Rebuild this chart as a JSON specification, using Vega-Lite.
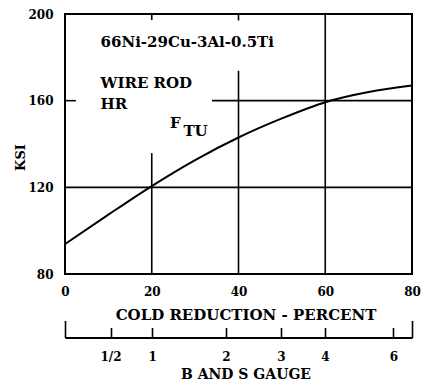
{
  "$schema": "https://vega.github.io/schema/vega-lite/v6.json",
  "width": 347,
  "height": 260,
  "autosize": {"type": "none"},
  "padding": {"left": 65, "top": 14, "right": 9, "bottom": 108},
  "background": "white",
  "config": {
    "view": {"stroke": "#000", "strokeWidth": 2},
    "font": "DejaVu Serif",
    "axis": {
      "grid": false,
      "labelFont": "DejaVu Serif",
      "titleFont": "DejaVu Serif",
      "labelColor": "#000",
      "titleColor": "#000",
      "labelFontWeight": "bold",
      "titleFontWeight": "bold"
    }
  },
  "resolve": {"axis": {"x": "independent"}},
  "encoding": {
    "y": {
      "field": "y",
      "type": "quantitative",
      "scale": {"domain": [80, 200], "nice": false, "zero": false},
      "axis": {
        "values": [80, 120, 160, 200],
        "ticks": false,
        "domain": false,
        "labelPadding": 12,
        "labelFontSize": 12,
        "labelOverlap": false,
        "title": "KSI",
        "titleFontSize": 13,
        "titleAngle": -90,
        "titleX": -41,
        "titleY": 143,
        "titleAlign": "center",
        "titleBaseline": "alphabetic"
      }
    }
  },
  "layer": [
    {
      "data": {
        "values": [
          {"x": 0, "x2": 80, "y": 120, "y2": 120},
          {"x": 33.9, "x2": 80, "y": 160, "y2": 160},
          {"x": 20, "x2": 20, "y": 80, "y2": 135.8},
          {"x": 40, "x2": 40, "y": 80, "y2": 173.8},
          {"x": 60, "x2": 60, "y": 80, "y2": 200},
          {"x": 0, "x2": 2.5, "y": 160, "y2": 160},
          {"x": 20, "x2": 20, "y": 197.2, "y2": 200},
          {"x": 40, "x2": 40, "y": 197, "y2": 200}
        ]
      },
      "mark": {"type": "rule", "color": "#000", "strokeWidth": 1.6},
      "encoding": {
        "x": {
          "field": "x",
          "type": "quantitative",
          "scale": {"domain": [0, 80], "nice": false, "zero": false},
          "axis": {
            "orient": "bottom",
            "offset": 63.5,
            "values": [0, 10.5, 20.1, 37.1, 49.8, 59.9, 75.7, 80],
            "labelExpr": "datum.value < 5 ? '' : datum.value < 15 ? '1/2' : datum.value < 30 ? '1' : datum.value < 45 ? '2' : datum.value < 55 ? '3' : datum.value < 70 ? '4' : datum.value < 78 ? '6' : ''",
            "domain": true,
            "domainColor": "#000",
            "domainWidth": 2,
            "ticks": true,
            "tickColor": "#000",
            "tickWidth": 1.6,
            "tickSize": {"condition": {"test": "datum.value <= 0 || datum.value >= 80", "value": -17}, "value": -10},
            "labelPadding": 24,
            "labelFontSize": 12,
            "labelFlush": false,
            "labelOverlap": false,
            "title": "B AND S GAUGE",
            "titleFontSize": 14,
            "titleX": 180.5,
            "titleY": 29.5,
            "titleBaseline": "top"
          }
        },
        "x2": {"field": "x2"},
        "y2": {"field": "y2"}
      }
    },
    {
      "data": {
        "values": [
          {"x": 0, "y": 93.8},
          {"x": 10, "y": 107.4},
          {"x": 20, "y": 120.6},
          {"x": 30, "y": 132.6},
          {"x": 40, "y": 143},
          {"x": 50, "y": 151.8},
          {"x": 60, "y": 159.3},
          {"x": 70, "y": 164},
          {"x": 80, "y": 167}
        ]
      },
      "mark": {"type": "line", "color": "#000", "strokeWidth": 2, "interpolate": "monotone"},
      "encoding": {
        "x": {
          "field": "x",
          "type": "quantitative",
          "scale": {"domain": [0, 80], "nice": false, "zero": false},
          "axis": {
            "orient": "bottom",
            "values": [0, 20, 40, 60, 80],
            "ticks": false,
            "domain": false,
            "labelPadding": 12,
            "labelFontSize": 12,
            "labelFlush": false,
            "labelOverlap": false,
            "title": "COLD REDUCTION - PERCENT",
            "titleFontSize": 15,
            "titleX": 180.5,
            "titleY": 33,
            "titleBaseline": "top"
          }
        }
      }
    },
    {
      "data": {
        "values": [
          {"x": 8.2, "y": 184.9, "label": "66Ni-29Cu-3Al-0.5Ti"},
          {"x": 8.2, "y": 165.7, "label": "WIRE ROD"},
          {"x": 8.2, "y": 156.0, "label": "HR"},
          {"x": 24.2, "y": 147.2, "label": "F"},
          {"x": 27.3, "y": 143.7, "label": "TU"}
        ]
      },
      "mark": {"type": "text", "align": "left", "baseline": "alphabetic", "font": "DejaVu Serif", "fontSize": 15, "fontWeight": "bold", "color": "#000"},
      "encoding": {
        "x": {"field": "x", "type": "quantitative", "scale": {"domain": [0, 80], "nice": false, "zero": false}, "axis": null},
        "text": {"field": "label"}
      }
    }
  ]
}
